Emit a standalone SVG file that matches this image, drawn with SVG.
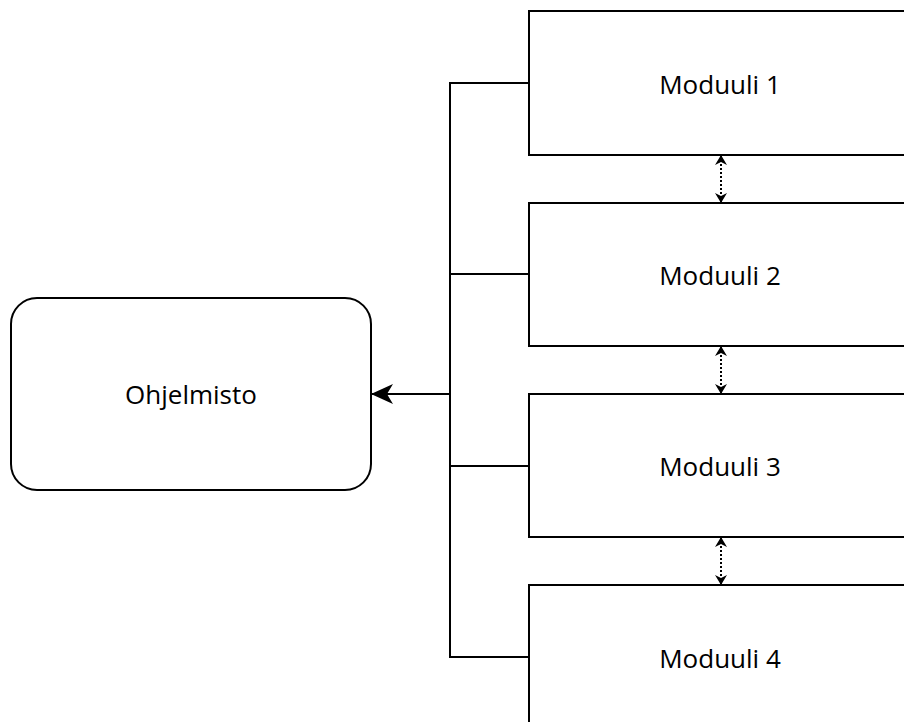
<svg xmlns="http://www.w3.org/2000/svg" width="904" height="722" viewBox="0 0 904 722">
  <style>
    .box { fill: #ffffff; stroke: #000000; stroke-width: 2; }
    .lbl { font-family: "Open Sans", "Liberation Sans", sans-serif; font-size: 26px; fill: #000000; text-anchor: middle; dominant-baseline: central; }
    .wire { fill: none; stroke: #000000; stroke-width: 2; }
    .dot { fill: none; stroke: #000000; stroke-width: 2; stroke-dasharray: 2 2; }
  </style>
  <defs>
    <marker id="head" viewBox="0 0 10 12" refX="9" refY="6" markerWidth="10" markerHeight="12" markerUnits="userSpaceOnUse" orient="auto-start-reverse">
      <path d="M10,6 L0,0 L3,6 L0,12 Z" fill="#000"/>
    </marker>
    <marker id="bigHead" viewBox="0 0 22 20" refX="21" refY="10" markerWidth="22" markerHeight="20" markerUnits="userSpaceOnUse" orient="auto">
      <path d="M22,10 L0,0 L6,10 L0,20 Z" fill="#000"/>
    </marker>
  </defs>

  <g id="ohjelmisto">
    <rect class="box" x="11" y="298" width="360" height="192" rx="26" ry="26"/>
    <text class="lbl" x="191" y="394">Ohjelmisto</text>
  </g>

  <g id="moduuli1">
    <rect class="box" x="529" y="11" width="400" height="144"/>
    <text class="lbl" x="720" y="84">Moduuli 1</text>
  </g>
  <g id="moduuli2">
    <rect class="box" x="529" y="203" width="400" height="143"/>
    <text class="lbl" x="720" y="275">Moduuli 2</text>
  </g>
  <g id="moduuli3">
    <rect class="box" x="529" y="394" width="400" height="143"/>
    <text class="lbl" x="720" y="466">Moduuli 3</text>
  </g>
  <g id="moduuli4">
    <rect class="box" x="529" y="585" width="400" height="160"/>
    <text class="lbl" x="720" y="658">Moduuli 4</text>
  </g>

  <g id="connectors">
    <!-- bus joining the modules to the program -->
    <path class="wire" d="M529,83 H450 V657 H529 M450,274 H529 M450,466 H529"/>
    <line class="wire" x1="450" y1="394" x2="372" y2="394" marker-end="url(#bigHead)"/>
    <!-- dotted two-way links between neighbouring modules -->
    <line class="dot" x1="721" y1="156" x2="721" y2="202" marker-start="url(#head)" marker-end="url(#head)"/>
    <line class="dot" x1="721" y1="347" x2="721" y2="393" marker-start="url(#head)" marker-end="url(#head)"/>
    <line class="dot" x1="721" y1="538" x2="721" y2="584" marker-start="url(#head)" marker-end="url(#head)"/>
  </g>
</svg>
